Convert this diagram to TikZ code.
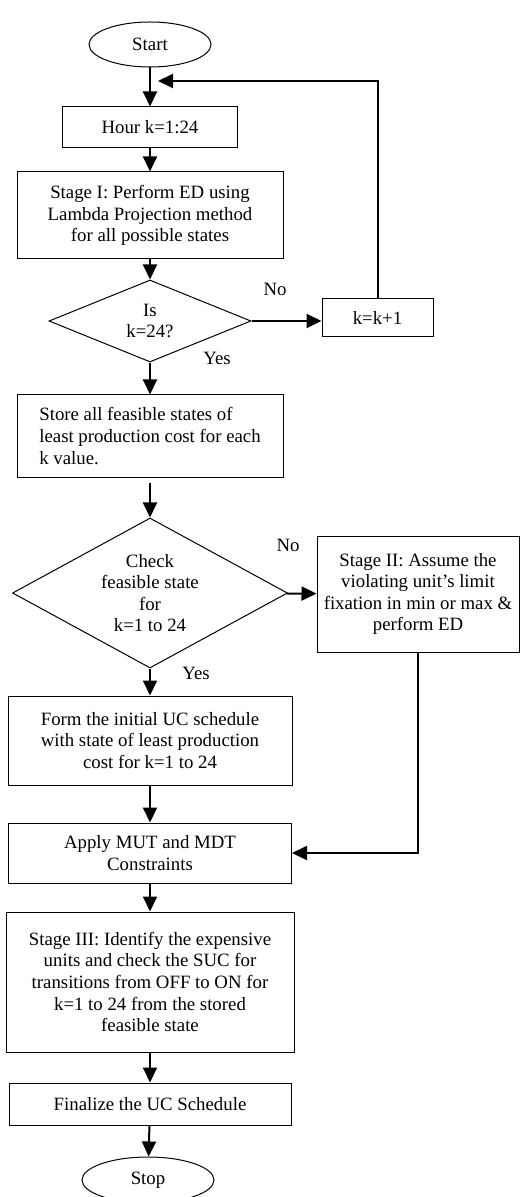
\documentclass[tikz,border=0pt]{standalone}
\usepackage{fontspec}
\setmainfont{Liberation Serif}
\usetikzlibrary{shapes.geometric, arrows.meta}
\tikzset{
    x=0.5pt,
    y=-0.5pt,
    >={Triangle[length=7.5pt,width=7pt]},
    every node/.style={font=\fontsize{9.4}{10.8}\selectfont},
    box/.style={rectangle, draw, line width=0.5pt, align=center, inner sep=2pt},
    decision/.style={diamond, draw, line width=0.5pt, align=center, inner sep=0pt, aspect=2},
    terminal/.style={ellipse, draw, line width=0.5pt, inner sep=1pt},
    flow/.style={->, line width=1pt},
}

\begin{document}
\begin{tikzpicture}
    \useasboundingbox (0,0) rectangle (520,1197);

        \node[terminal, minimum width=61pt, minimum height=22.5pt] (start) at (150,44.5) {Start};
        \node[box, minimum width=87.5pt, minimum height=20.5pt] (hour) at (150,127.5) {Hour k=1:24};
        \node[box, minimum width=133pt, minimum height=43.5pt] (stageI) at (150,215.5)
            {Stage I: Perform ED using\\Lambda Projection method\\for all possible states};
        \node[decision, minimum width=101pt, minimum height=41pt] (isk) at (150,321) {Is\\k=24?};
        \node[box, minimum width=55.5pt, minimum height=19pt] (kk) at (377.5,318) {k=k+1};
        \node[box, align=left, minimum width=133pt, minimum height=41pt] (store) at (150,436)
            {Store all feasible states of\\least production cost for each\\k value.};
        \node[decision, minimum width=137.5pt, minimum height=75pt] (check) at (150,593)
            {Check\\feasible state\\for\\k=1 to 24};
        \node[box, minimum width=101pt, minimum height=58pt] (stageII) at (418,594)
            {Stage II: Assume the\\violating unit’s limit\\fixation in min or max \&\\perform ED};
        \node[box, minimum width=142pt, minimum height=44.5pt] (form) at (150,740.5)
            {Form the initial UC schedule\\with state of least production\\cost for k=1 to 24};
        \node[box, minimum width=141.5pt, minimum height=30pt] (apply) at (150,853)
            {Apply MUT and MDT\\Constraints};
        \node[box, minimum width=144pt, minimum height=70pt] (stageIII) at (150,982)
            {Stage III: Identify the expensive\\units and check the SUC for\\transitions from OFF to ON for\\k=1 to 24 from the stored\\feasible state};
        \node[box, minimum width=141pt, minimum height=21pt] (final) at (150,1104) {Finalize the UC Schedule};
        \node[terminal, minimum width=66pt, minimum height=23pt] (stop) at (148,1180) {Stop};

        \node (no1) at (275,289) {No};
        \node (yes1) at (217,358) {Yes};
        \node (no2) at (288,545) {No};
        \node (yes2) at (196,673) {Yes};

        \coordinate (back) at (158,81);

    \path[flow]
        (start) edge (hour)
        (hour) edge (stageI)
        (stageI) edge (isk)
        (isk) edge (store)
            edge (isk.east -| kk.west)
        (store) edge[shorten <=2.5pt] (check)
        (check) edge (form)
            edge (stageII)
        (form) edge (apply)
        (apply) edge (stageIII)
        (stageIII) edge (final)
        (final) edge (stop);

    \draw[flow] (kk.north) |- (back);
    \draw[flow] (stageII.south) |- (apply.east);
\end{tikzpicture}
\end{document}
